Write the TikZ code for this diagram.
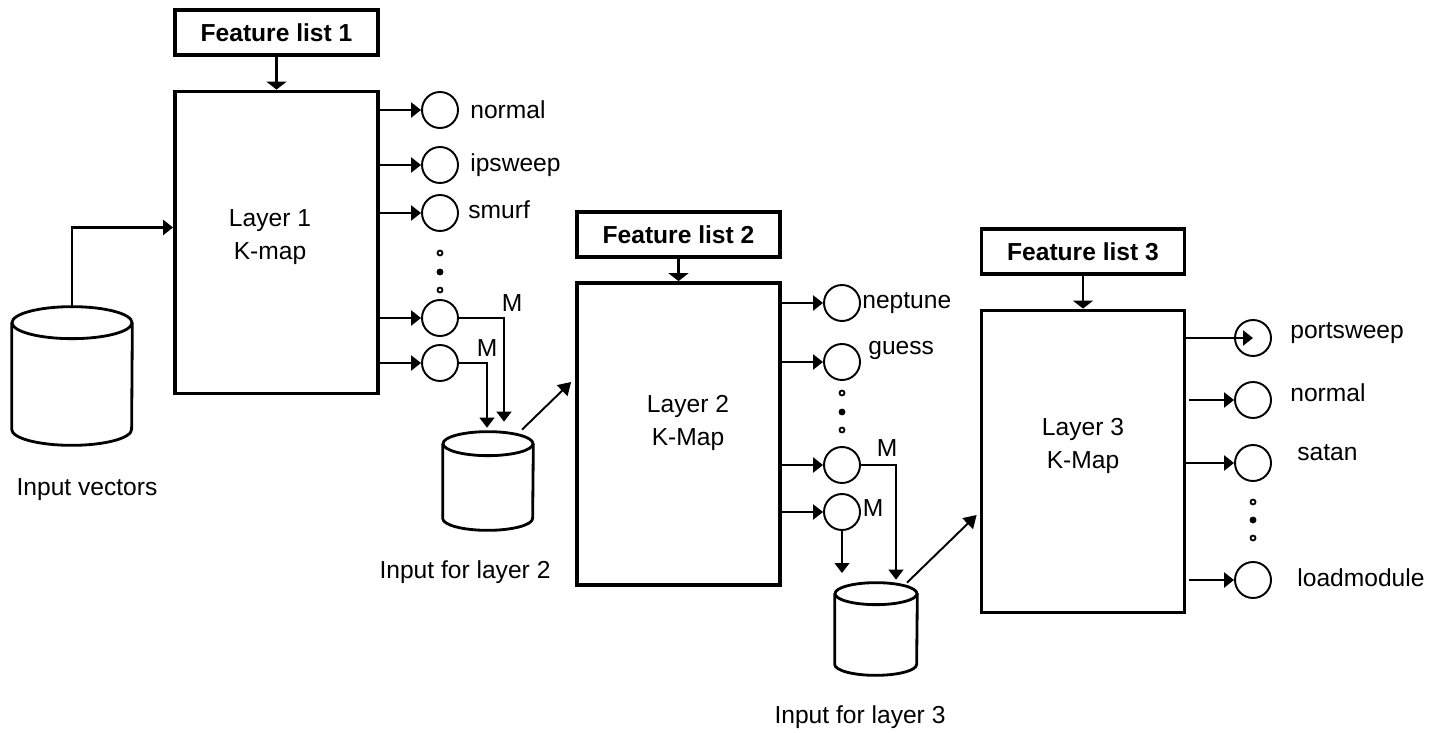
\documentclass[tikz,border=0pt]{standalone}
\usepackage{fontspec}
\setmainfont{Liberation Sans}
\usetikzlibrary{shapes,arrows.meta,positioning,calc}
\def\diagfont{\fontsize{14}{18.8}\selectfont}
\def\kmapwidth{4.06cm}
\def\kmapheight{6.04cm}
\def\featheight{0.9cm}
\def\outsize{0.72cm}

\tikzset{
  kmap/.style={draw, line width=2.2pt, minimum width=\kmapwidth, minimum height=\kmapheight, inner sep=0},
  featbox/.style={draw, line width=2pt, minimum width=\kmapwidth, minimum height=\featheight, font=\diagfont\bfseries},
  outnode/.style={draw, circle, line width=1.1pt, minimum size=\outsize, inner sep=0},
  tinydot/.style={draw, circle, line width=1pt, minimum size=0.1cm, inner sep=0},
  dbbody/.style={inner sep=0},
  dbline/.style={line width=1.6pt},
  outlabel/.style={anchor=west, inner sep=0},
  feed/.style={-{Triangle[length=0.2cm,width=0.3cm]}, line width=1.7pt},
  drop/.style={-{Triangle[length=0.16cm,width=0.4cm]}, line width=1.3pt},
  pass/.style={-{Triangle[length=0.2cm,width=0.3cm]}, line width=0.6pt},
  hit/.style={-{Triangle[length=0.25cm,width=0.3cm]}, line width=1.1pt},
}

% cylinder outline round a named node: name, x radius, y radius
\newcommand{\drawdb}[3]{%
  \draw[dbline] ($(#1.north)+(0,-#3)$) ellipse [x radius=#2, y radius=#3];
  \draw[dbline] ($(#1.north west)+(0,-#3)$) -- ($(#1.south west)+(0,#3)$)
    arc [start angle=180, end angle=360, x radius=#2, y radius=#3]
    -- ($(#1.north east)+(0,-#3)$);
}

\begin{document}
\begin{tikzpicture}[x=0.02cm, y=-0.02cm, font=\diagfont]
  \useasboundingbox (0,0) rectangle (1437,733);

  % input database
  \node[dbbody, minimum width=2.4cm, minimum height=2.76cm] (input-vectors) at (72,376) {};
  \drawdb{input-vectors}{1.2cm}{0.32cm}
  \node (input-vectors-text) at (87,490) {Input vectors};

  % layer 1
  \node[featbox] (feature-1) at (276.5,32.5) {Feature list 1};
  \node[kmap] (layer-1) at (276.5,242.5) {};
  \node[align=center] (layer-1-text) at (270,237) {Layer 1\\K-map};

  \node[outnode] (out-1-1) at (440,110) {};
  \node[outnode] (out-1-2) at (440,165) {};
  \node[outnode] (out-1-3) at (440,213) {};
  \node[outnode] (out-1-4) at (440,318) {};
  \node[outnode] (out-1-5) at (440,363) {};
  \node[tinydot] (dots-1-a) at (440,253) {};
  \node[tinydot,fill] (dots-1-b) at (440,272) {};
  \node[tinydot] (dots-1-c) at (440,290) {};

  \node[outlabel] (normal-1) at (470,110) {normal};
  \node[outlabel] (ipsweep) at (470,165) {ipsweep};
  \node[outlabel] (smurf) at (468,210) {smurf};
  \node (m-1-a) at (512,303) {M};
  \node (m-1-b) at (487,348) {M};

  \draw[drop] (feature-1) -- (layer-1);
  \draw[feed] (input-vectors.north) |- ($(layer-1.west)+(0,-15)$);
  \draw[feed] (layer-1.east |- out-1-1) -- (out-1-1);
  \draw[feed] (layer-1.east |- out-1-2) -- (out-1-2);
  \draw[feed] (layer-1.east |- out-1-3) -- (out-1-3);
  \draw[feed] (layer-1.east |- out-1-4) -- (out-1-4);
  \draw[feed] (layer-1.east |- out-1-5) -- (out-1-5);

  % input for layer 2
  \node[dbbody, minimum width=1.8cm, minimum height=1.96cm] (input-2) at (488,481) {};
  \drawdb{input-2}{0.9cm}{0.24cm}
  \node (input-2-text) at (465,572) {Input for layer 2};
  \draw[pass] (out-1-4) -| ($(input-2.north)+(16,-10)$);
  \draw[pass] (out-1-5) -| ($(input-2.north)+(-1,-4)$);

  % layer 2
  \node[featbox] (feature-2) at (678.5,234.5) {Feature list 2};
  \node[kmap] (layer-2) at (678.5,434) {};
  \node[align=center] (layer-2-text) at (688,423) {Layer 2\\K-Map};
  \draw[hit] ($(input-2.north)+(34,-2)$) -- ($(layer-2.west)+(-4,-52)$);

  \node[outnode] (out-2-1) at (842,303) {};
  \node[outnode] (out-2-2) at (842,362) {};
  \node[outnode] (out-2-3) at (842,465) {};
  \node[outnode] (out-2-4) at (842,512) {};
  \node[tinydot] (dots-2-a) at (842,393) {};
  \node[tinydot,fill] (dots-2-b) at (842,412) {};
  \node[tinydot] (dots-2-c) at (842,430) {};

  \node[outlabel] (neptune) at (862,303) {neptune};
  \node[outlabel] (guess) at (868,350) {guess};
  \node (m-2-a) at (887,448) {M};
  \node (m-2-b) at (873,508) {M};

  \draw[drop] (feature-2) -- (layer-2);
  \draw[feed] (layer-2.east |- out-2-1) -- (out-2-1);
  \draw[feed] (layer-2.east |- out-2-2) -- (out-2-2);
  \draw[feed] (layer-2.east |- out-2-3) -- (out-2-3);
  \draw[feed] (layer-2.east |- out-2-4) -- (out-2-4);

  % input for layer 3
  \node[dbbody, minimum width=1.64cm, minimum height=1.84cm] (input-3) at (876,629) {};
  \drawdb{input-3}{0.82cm}{0.22cm}
  \node (input-3-text) at (860,717) {Input for layer 3};
  \coordinate (drop-2) at (842,573);
  \draw[pass] (out-2-3) -| ($(input-3.north)+(20,-3)$);
  \draw[pass] (out-2-4) -- (drop-2);

  % layer 3
  \node[featbox] (feature-3) at (1083,251.5) {Feature list 3};
  \node[kmap] (layer-3) at (1083,461.5) {};
  \node[align=center] (layer-3-text) at (1083,446) {Layer 3\\K-Map};
  \draw[hit] ($(input-3.north)+(31,0)$) -- ($(layer-3.west)+(-3,53.5)$);

  \node[outnode] (out-3-1) at (1253,338) {};
  \node[outnode] (out-3-2) at (1253,400) {};
  \node[outnode] (out-3-3) at (1253,463) {};
  \node[outnode] (out-3-4) at (1253,580) {};
  \node[tinydot] (dots-3-a) at (1253,502) {};
  \node[tinydot,fill] (dots-3-b) at (1253,520) {};
  \node[tinydot] (dots-3-c) at (1253,538) {};

  \node[outlabel] (portsweep) at (1290,333) {portsweep};
  \node[outlabel] (normal-3) at (1290,393) {normal};
  \node[outlabel] (satan) at (1297,453) {satan};
  \node[outlabel] (loadmodule) at (1297,578) {loadmodule};

  \draw[drop] (feature-3) -- (layer-3);
  \draw[feed] (layer-3.east |- out-3-1) -- (out-3-1.center);
  \draw[feed] ($(layer-3.east |- out-3-2)+(3,0)$) -- (out-3-2);
  \draw[feed] (layer-3.east |- out-3-3) -- (out-3-3);
  \draw[feed] ($(layer-3.east |- out-3-4)+(3,0)$) -- (out-3-4);

\end{tikzpicture}
\end{document}
